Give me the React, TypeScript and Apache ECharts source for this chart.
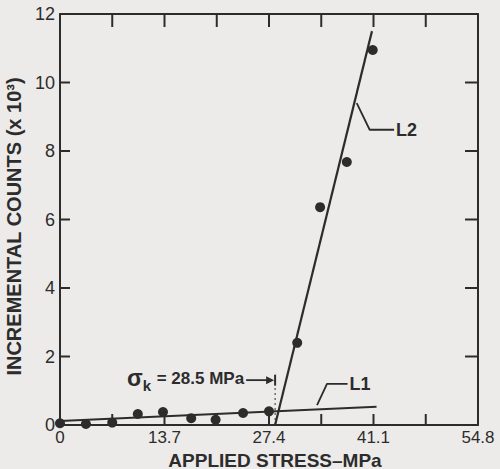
import React, { useEffect, useRef } from "react";
import * as echarts from "echarts";

// ---- data ----
const stressMPa = [0, 3.4, 6.85, 10.2, 13.5, 17.2, 20.4, 24.0, 27.4, 31.1, 34.1, 37.6, 41.0];
const countsK = [0.05, 0.03, 0.07, 0.32, 0.38, 0.2, 0.15, 0.35, 0.4, 2.4, 6.36, 7.68, 10.95];
const lineL1 = [[0, 0.12], [41.5, 0.53]];
const lineL2 = [[28.2, 0], [40.9, 11.5]];
const leaderL1 = [[33.7, 0.58], [35.0, 1.2], [37.7, 1.2]];
const leaderL2 = [[38.9, 9.4], [40.6, 8.62], [43.8, 8.62]];
const sigmaK = 28.2; // position of the σk marker on the stress axis
const sigmaArrowY = 1.31;
const xTickLabels = ["0", "13.7", "27.4", "41.1", "54.8"];
const xTickValues = [6.85, 13.7, 20.55, 27.4, 34.25, 41.1, 47.95];
const yTickValues = [2, 4, 6, 8, 10];
const xMajor = 13.7;
const xMinor = 6.85;
const xMax = 54.8;
const yMax = 12;
const yStep = 2;

const W = 500, H = 469;
const G = { left: 60, top: 14, right: 22, bottom: 44 };

const INK = "#2c2c2c";
const BG = "#ecebe9";
const FONT = "Liberation Sans, Arial, sans-serif";

const mkLine = () => ({ show: true, onZero: false, lineStyle: { color: INK, width: 2 } });

export default function App() {
  const ref = useRef<HTMLDivElement>(null);
  useEffect(() => {
    if (!ref.current) return;
    const chart = echarts.init(ref.current, undefined, { renderer: "svg" });
    const xFmt = (v: number) => {
      const i = v / xMajor;
      const r = Math.round(i);
      return Math.abs(i - r) < 1e-6 ? xTickLabels[r] ?? "" : "";
    };
    const option: any = {
      animation: false,
      backgroundColor: BG,
      grid: { ...G, containLabel: false, outerBoundsMode: "none" },
      xAxis: [
        {
          type: "value", position: "bottom", min: 0, max: xMax, interval: xMinor,
          axisLine: mkLine(), splitLine: { show: false }, axisTick: { show: false },
          axisLabel: { formatter: xFmt, color: INK, fontFamily: FONT, fontSize: 17, margin: 4, showMaxLabel: true, showMinLabel: true },
          name: "APPLIED STRESS\u2013MPa", nameLocation: "middle", nameGap: 21,
          nameTextStyle: { color: INK, fontFamily: FONT, fontSize: 19, fontWeight: "bold", padding: [0, 0, 0, 12] },
        },
        {
          type: "value", position: "top", min: 0, max: xMax, interval: xMinor,
          axisLine: mkLine(), splitLine: { show: false }, axisTick: { show: false },
          axisLabel: { show: false },
        },
      ],
      yAxis: [
        {
          type: "value", position: "left", min: 0, max: yMax, interval: yStep,
          axisLine: mkLine(), splitLine: { show: false }, axisTick: { show: false },
          axisLabel: { color: INK, fontFamily: FONT, fontSize: 18, margin: 5 },
          name: "INCREMENTAL COUNTS (x 10\u00b3)", nameLocation: "middle", nameGap: 18, nameRotate: 90,
          nameTextStyle: { color: INK, fontFamily: FONT, fontSize: 20, fontWeight: "bold", padding: [0, 14, 0, 0] },
        },
        {
          type: "value", position: "right", min: 0, max: yMax, interval: yStep,
          axisLine: mkLine(), splitLine: { show: false }, axisTick: { show: false },
          axisLabel: { show: false },
        },
      ],
      series: [
        {
          type: "line", name: "L1", data: lineL1, showSymbol: false, symbol: "none",
          lineStyle: { color: INK, width: 2 }, z: 3,
        },
        {
          type: "line", name: "L2", data: lineL2, showSymbol: false, symbol: "none",
          lineStyle: { color: INK, width: 2.2 }, z: 3,
        },
        {
          type: "scatter", name: "counts", data: stressMPa.map((x, i) => [x, countsK[i]]),
          symbol: "circle", symbolSize: 10, itemStyle: { color: INK, opacity: 1 }, z: 4,
        },
        {
          type: "line", data: leaderL1, symbol: "none", lineStyle: { color: INK, width: 1.8 },
          endLabel: { show: true, formatter: "L1", color: INK, fontFamily: FONT, fontSize: 18, fontWeight: "bold", distance: 2 },
        },
        {
          type: "line", data: leaderL2, symbol: "none", lineStyle: { color: INK, width: 1.8 },
          endLabel: { show: true, formatter: "L2", color: INK, fontFamily: FONT, fontSize: 18, fontWeight: "bold", distance: 2 },
        },
        {
          type: "line", symbol: "none", lineStyle: { color: INK, width: 1.8 },
          data: [[sigmaK - 3.8, sigmaArrowY], [sigmaK - 0.5, sigmaArrowY]],
        },
        {
          type: "line", symbol: "none", lineStyle: { color: INK, width: 2 },
          data: [[sigmaK, sigmaArrowY - 0.16], [sigmaK, sigmaArrowY + 0.16]],
        },
        {
          type: "line", symbol: "none", lineStyle: { color: INK, width: 1, type: [2, 3] },
          data: [[sigmaK, 0], [sigmaK, sigmaArrowY - 0.16]],
        },
      ],
    };
    chart.setOption(option);
    const px = (x: number, y: number) => chart.convertToPixel({ xAxisIndex: 0, yAxisIndex: 0 }, [x, y]) as number[];
    const tip = px(sigmaK, sigmaArrowY);
    const tail = px(sigmaK - 3.8, sigmaArrowY);
    const ticks: any[] = [];
    xTickValues.forEach((v) => {
      const b = px(v, 0);
      const t = px(v, yMax);
      ticks.push({ type: "rect", shape: { x: b[0] - 1, y: b[1] - 11, width: 2, height: 11 }, style: { fill: INK }, z: 6 });
      ticks.push({ type: "rect", shape: { x: t[0] - 1, y: t[1], width: 2, height: 13 }, style: { fill: INK }, z: 6 });
    });
    yTickValues.forEach((v) => {
      const l = px(0, v);
      const r = px(xMax, v);
      ticks.push({ type: "rect", shape: { x: l[0], y: l[1] - 1, width: 10, height: 2 }, style: { fill: INK }, z: 6 });
      ticks.push({ type: "rect", shape: { x: r[0] - 13, y: r[1] - 1, width: 13, height: 2 }, style: { fill: INK }, z: 6 });
    });
    chart.setOption({
      graphic: [
        ...ticks,
        {
          type: "polygon",
          shape: { points: [[tip[0] - 1, tip[1]], [tip[0] - 9, tip[1] - 4], [tip[0] - 9, tip[1] + 4]] },
          style: { fill: INK },
          z: 10,
        },
        {
          type: "text",
          x: tail[0] - 2,
          y: tip[1] - 2,
          style: {
            text: "{s|\u03c3}{k|k}{t| = 28.5 MPa}",
            align: "right",
            verticalAlign: "middle",
            rich: {
              s: { fontFamily: FONT, fontSize: 23, fill: INK, fontWeight: "bold" },
              k: { fontFamily: FONT, fontSize: 15, fill: INK, fontWeight: "bold", padding: [14, 1, 0, 0] },
              t: { fontFamily: FONT, fontSize: 17, fill: INK, fontWeight: "bold" },
            },
          },
          z: 10,
        },
      ],
    });
    return () => chart.dispose();
  }, []);
  return <div ref={ref} style={{ width: W, height: H, position: "absolute", left: 0, top: 0 }} />;
}
